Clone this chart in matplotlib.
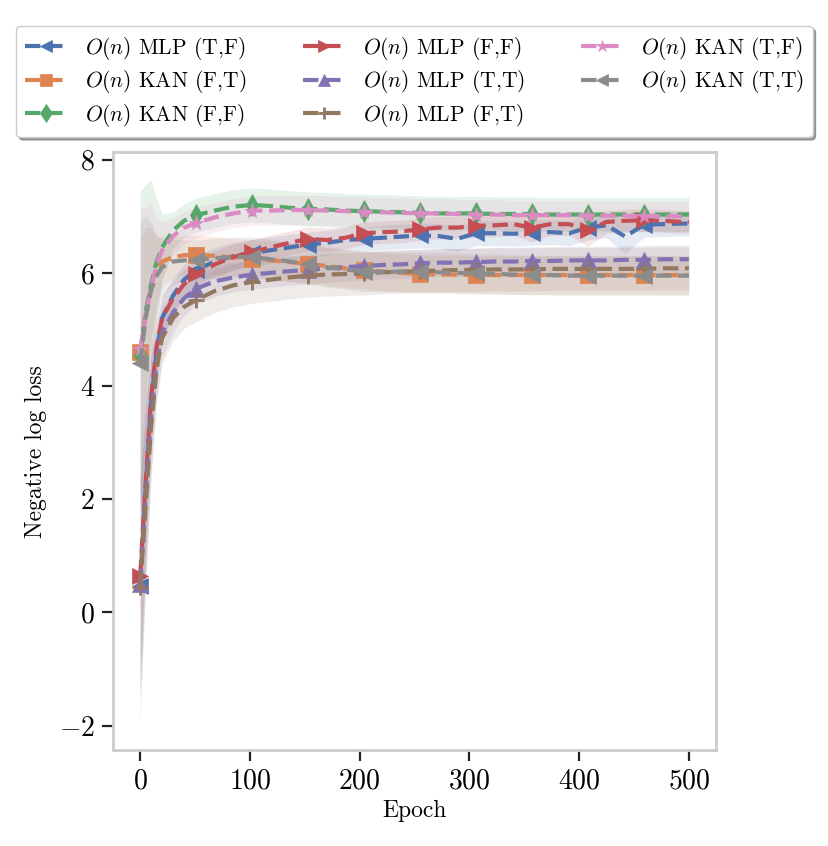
import numpy as np
import matplotlib
matplotlib.use("Agg")
import matplotlib.pyplot as plt

plt.rcParams['font.family'] = 'serif'
plt.rcParams['font.serif'] = ['cmr10', 'DejaVu Serif']
plt.rcParams['mathtext.fontset'] = 'cm'
plt.rcParams['axes.formatter.use_mathtext'] = True
plt.rcParams['axes.unicode_minus'] = True

epochs = [0, 5, 10, 15, 20, 30, 40, 51, 68, 85, 102, 119, 136, 153, 170, 187, 204,
          221, 238, 255, 272, 289, 306, 323, 340, 357, 374, 391, 408, 425, 442,
          459, 476, 493, 500]

labels = [r'$O(n)$ MLP (T,F)', r'$O(n)$ KAN (F,T)', r'$O(n)$ KAN (F,F)',
          r'$O(n)$ MLP (F,F)', r'$O(n)$ MLP (T,T)', r'$O(n)$ MLP (F,T)',
          r'$O(n)$ KAN (T,F)', r'$O(n)$ KAN (T,T)']

mlp_tf = [0.47, 2.2, 3.7, 4.6, 5.2, 5.6, 5.88, 6.05, 6.2, 6.3, 6.35, 6.4, 6.45,
          6.5, 6.53, 6.58, 6.6, 6.62, 6.64, 6.66, 6.65, 6.6, 6.7, 6.7, 6.69,
          6.71, 6.72, 6.7, 6.8, 6.84, 6.64, 6.85, 6.86, 6.87, 6.87]
kan_ft = [4.6, 5.3, 5.8, 6.05, 6.2, 6.28, 6.31, 6.32, 6.3, 6.27, 6.25, 6.22,
          6.19, 6.16, 6.12, 6.08, 6.05, 6.02, 6.0, 5.98, 5.97, 5.97, 5.96, 5.96,
          5.96, 5.96, 5.96, 5.96, 5.96, 5.96, 5.96, 5.96, 5.96, 5.96, 5.96]
kan_ff = [4.55, 5.3, 5.8, 6.2, 6.45, 6.75, 6.92, 7.02, 7.1, 7.17, 7.2, 7.18,
          7.15, 7.13, 7.12, 7.1, 7.09, 7.08, 7.07, 7.06, 7.05, 7.05, 7.05, 7.04,
          7.04, 7.04, 7.03, 7.03, 7.03, 7.03, 7.03, 7.03, 7.03, 7.03, 7.03]
mlp_ff = [0.65, 2.3, 3.8, 4.7, 5.2, 5.55, 5.8, 5.98, 6.15, 6.28, 6.37, 6.45,
          6.53, 6.6, 6.58, 6.62, 6.7, 6.72, 6.73, 6.77, 6.8, 6.8, 6.83, 6.84,
          6.86, 6.8, 6.86, 6.86, 6.75, 6.9, 6.92, 6.93, 6.92, 6.9, 6.89]
mlp_tt = [0.5, 2.1, 3.5, 4.4, 4.95, 5.3, 5.55, 5.72, 5.85, 5.92, 5.97, 6.0,
          6.03, 6.05, 6.08, 6.1, 6.12, 6.14, 6.15, 6.17, 6.18, 6.18, 6.19, 6.2,
          6.2, 6.21, 6.21, 6.22, 6.22, 6.22, 6.23, 6.23, 6.24, 6.24, 6.24]
mlp_ft = [0.45, 1.9, 3.3, 4.3, 4.85, 5.2, 5.4, 5.52, 5.68, 5.78, 5.84, 5.88,
          5.92, 5.95, 5.97, 5.98, 5.99, 6.01, 6.02, 6.03, 6.04, 6.05, 6.05,
          6.06, 6.06, 6.06, 6.07, 6.07, 6.07, 6.07, 6.07, 6.07, 6.08, 6.08, 6.08]
kan_tf = [4.65, 5.25, 5.75, 6.15, 6.4, 6.65, 6.8, 6.88, 6.98, 7.05, 7.1, 7.1,
          7.11, 7.11, 7.1, 7.09, 7.08, 7.07, 7.06, 7.05, 7.05, 7.04, 7.03, 7.03,
          7.02, 7.02, 7.02, 7.02, 7.01, 7.01, 7.01, 7.0, 7.0, 7.0, 7.0]
kan_tt = [4.4, 5.2, 5.7, 5.95, 6.1, 6.2, 6.22, 6.23, 6.26, 6.28, 6.28, 6.24,
          6.2, 6.16, 6.1, 6.06, 6.02, 6.02, 6.02, 6.02, 6.01, 6.0, 5.99, 5.98,
          5.97, 5.96, 5.96, 5.95, 5.95, 5.95, 5.95, 5.95, 5.95, 5.95, 5.95]

# standard deviations (shaded bands)
sd_mlp_tf = [1.9, 1.3, 0.8, 0.5, 0.4, 0.32, 0.28, 0.26, 0.25, 0.24, 0.24, 0.23,
             0.23, 0.22, 0.22, 0.22, 0.22, 0.22, 0.22, 0.22, 0.22, 0.22, 0.22,
             0.22, 0.22, 0.22, 0.22, 0.22, 0.22, 0.22, 0.3, 0.22, 0.22, 0.22, 0.22]
sd_kan_ft = [2.0, 1.5, 1.0, 0.6, 0.45, 0.38, 0.35, 0.34, 0.34, 0.34, 0.34, 0.34,
             0.34, 0.34, 0.34, 0.34, 0.34, 0.34, 0.34, 0.34, 0.34, 0.34, 0.34,
             0.34, 0.34, 0.34, 0.34, 0.34, 0.34, 0.34, 0.34, 0.34, 0.34, 0.34, 0.34]
sd_kan_ff = [2.9, 2.25, 1.85, 1.1, 0.6, 0.32, 0.3, 0.3, 0.3, 0.3, 0.3, 0.3, 0.3,
             0.3, 0.3, 0.3, 0.3, 0.3, 0.3, 0.3, 0.3, 0.3, 0.3, 0.3, 0.3, 0.3,
             0.3, 0.3, 0.3, 0.3, 0.3, 0.3, 0.3, 0.3, 0.3]
sd_mlp_ff = [1.8, 1.3, 0.8, 0.5, 0.4, 0.3, 0.27, 0.25, 0.24, 0.23, 0.22, 0.22,
             0.21, 0.21, 0.21, 0.2, 0.2, 0.2, 0.2, 0.2, 0.2, 0.2, 0.2, 0.2,
             0.2, 0.25, 0.2, 0.2, 0.28, 0.2, 0.2, 0.2, 0.2, 0.2, 0.2]
sd_mlp_tt = [2.45, 1.6, 1.0, 0.6, 0.45, 0.35, 0.3, 0.28, 0.27, 0.26, 0.26, 0.25,
             0.25, 0.25, 0.25, 0.25, 0.25, 0.25, 0.25, 0.25, 0.25, 0.25, 0.25,
             0.25, 0.25, 0.25, 0.25, 0.25, 0.25, 0.25, 0.25, 0.25, 0.25, 0.25, 0.25]
sd_mlp_ft = [1.9, 1.4, 0.9, 0.6, 0.45, 0.4, 0.38, 0.38, 0.38, 0.38, 0.38, 0.38,
             0.38, 0.38, 0.38, 0.38, 0.38, 0.38, 0.38, 0.38, 0.38, 0.38, 0.38,
             0.38, 0.38, 0.38, 0.38, 0.38, 0.38, 0.38, 0.38, 0.38, 0.38, 0.38, 0.38]
sd_kan_tf = [2.5, 1.9, 1.5, 0.8, 0.5, 0.32, 0.28, 0.27, 0.26, 0.26, 0.26, 0.26,
             0.26, 0.26, 0.26, 0.26, 0.26, 0.26, 0.26, 0.26, 0.26, 0.26, 0.26,
             0.26, 0.26, 0.26, 0.26, 0.26, 0.26, 0.26, 0.26, 0.26, 0.26, 0.26, 0.26]
sd_kan_tt = [2.5, 1.8, 1.2, 0.7, 0.5, 0.4, 0.36, 0.35, 0.35, 0.35, 0.35, 0.35,
             0.35, 0.35, 0.35, 0.35, 0.35, 0.35, 0.35, 0.35, 0.35, 0.35, 0.35,
             0.35, 0.35, 0.35, 0.35, 0.35, 0.35, 0.35, 0.35, 0.35, 0.35, 0.35, 0.35]

means = [mlp_tf, kan_ft, kan_ff, mlp_ff, mlp_tt, mlp_ft, kan_tf, kan_tt]
sds = [sd_mlp_tf, sd_kan_ft, sd_kan_ff, sd_mlp_ff, sd_mlp_tt, sd_mlp_ft,
       sd_kan_tf, sd_kan_tt]
markers = ['<', 's', 'd', '>', '^', '+', '*', '<']
colors = ['#4C72B0', '#DD8452', '#55A868', '#C44E52', '#8172B3', '#937860',
          '#DA8BC3', '#8C8C8C']

x = np.array(epochs)
mark_idx = [i for i, e in enumerate(epochs) if e % 51 == 0 and e < 500]

fig = plt.figure(figsize=(8.29, 8.46), dpi=100)
ax = fig.add_axes([0.136, 0.1135, 0.728, 0.7065])

for m, s, mk, c, lab in zip(means, sds, markers, colors, labels):
    m = np.array(m)
    s = np.array(s)
    ax.fill_between(x, m - s, m + s, color=c, alpha=0.14, linewidth=0)
    ax.plot(x, m, linestyle='--', marker=mk, markevery=mark_idx, color=c,
            linewidth=3, markersize=11, markeredgewidth=2 if mk == '+' else 0.5,
            markeredgecolor=c, label=lab)

ax.set_xticks([0, 100, 200, 300, 400, 500])
ax.set_yticks([-2, 0, 2, 4, 6, 8])
ax.tick_params(axis='both', labelsize=20, length=8, width=1.6, color='#222222',
               pad=5, direction='out')
ax.set_xlabel('Epoch', fontsize=17)
ax.set_ylabel('Negative log loss', fontsize=17, labelpad=8)
for sp in ax.spines.values():
    sp.set_color('#cccccc')
    sp.set_linewidth(2)

handles, labs = ax.get_legend_handles_labels()
fig.legend(handles, labs, loc='upper center', bbox_to_anchor=(0.5, 0.982),
           ncol=3, fontsize=15.5, fancybox=True, shadow=True, frameon=True,
           edgecolor='#cccccc', framealpha=1, handlelength=2.0,
           columnspacing=2.6, labelspacing=0.3, markerscale=0.85)

fig.savefig('out.png', dpi=100)
